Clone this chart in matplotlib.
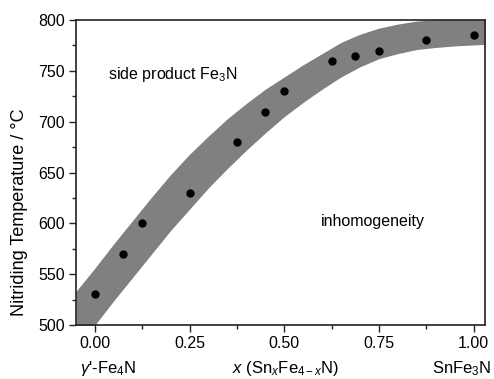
import matplotlib
matplotlib.use("Agg")
import matplotlib.pyplot as plt
from matplotlib.ticker import MultipleLocator

plt.rcParams['font.family'] = ['Liberation Sans', 'DejaVu Sans']
plt.rcParams['mathtext.fontset'] = 'custom'
plt.rcParams['mathtext.rm'] = 'Liberation Sans'
plt.rcParams['mathtext.it'] = 'Liberation Sans:italic'

# measured nitriding temperatures vs. Sn content
sn_content = [0.0, 0.075, 0.125, 0.25, 0.375, 0.45, 0.5, 0.625, 0.6875, 0.75, 0.875, 1.0]
temperature = [530, 570, 600, 630, 680, 710, 730, 760, 765, 770, 780, 785]

# edges of the shaded single-phase window
band_x = [-0.05, 0.0, 0.05, 0.1, 0.15, 0.2, 0.25, 0.3, 0.35, 0.4, 0.45, 0.5,
          0.55, 0.6, 0.65, 0.7, 0.75, 0.8, 0.85, 0.9, 0.95, 1.0, 1.03]
band_upper = [533, 556, 580, 603, 626, 648, 668, 686, 703, 718, 732, 744,
              756, 767, 778, 786, 792, 796, 799, 800.5, 801.5, 802, 802]
band_lower = [476, 500, 524, 547, 570, 593, 614, 635, 654, 672, 689, 705,
              719, 732, 744, 754, 762, 767, 771, 773, 774.5, 775.5, 776]

x_ticks = [0.0, 0.25, 0.5, 0.75, 1.0]
x_ticklabels = ['0.00', '0.25', '0.50', '0.75', '1.00']
y_ticks = [500, 550, 600, 650, 700, 750, 800]

fig = plt.figure(figsize=(4.94, 3.79), dpi=100)
ax = fig.add_axes([0.1538, 0.1425, 0.828, 0.8047])

ax.fill_between(band_x, band_lower, band_upper, color='#808080', lw=0, zorder=1)
ax.plot(sn_content, temperature, 'o', color='black', ms=5, zorder=3)

ax.set_xlim(-0.05, 1.03)
ax.set_ylim(500, 800)
ax.set_xticks(x_ticks)
ax.set_xticklabels(x_ticklabels)
ax.set_yticks(y_ticks)
ax.xaxis.set_minor_locator(MultipleLocator(0.125))
ax.yaxis.set_minor_locator(MultipleLocator(25))
ax.tick_params(which='both', direction='out', labelsize=11.5, width=1.0, color='#222222')
ax.tick_params(which='major', length=5, pad=3)
ax.tick_params(which='minor', length=3)
for sp in ax.spines.values():
    sp.set_linewidth(1.2)
    sp.set_color('#222222')

ax.set_ylabel('Nitriding Temperature / °C', fontsize=13)
ax.yaxis.set_label_coords(-0.117, 0.37)

ax.text(0.204, 746, 'side product Fe$_3$N', fontsize=11.5, ha='center', va='center')
ax.text(0.735, 602, 'inhomogeneity', fontsize=11.5, ha='center', va='center')

# composition labels under the tick labels
row = -0.144
ax.text(0.036, row, "$\\gamma$'-Fe$_4$N", fontsize=12, ha='center', va='center',
        transform=ax.get_xaxis_transform())
ax.text(0.504, row, '$x$ (Sn$_x$Fe$_{4\u2212x}$N)', fontsize=12, ha='center', va='center',
        transform=ax.get_xaxis_transform())
ax.text(0.968, row, 'SnFe$_3$N', fontsize=12, ha='center', va='center',
        transform=ax.get_xaxis_transform())

fig.savefig('out.png', dpi=100)
